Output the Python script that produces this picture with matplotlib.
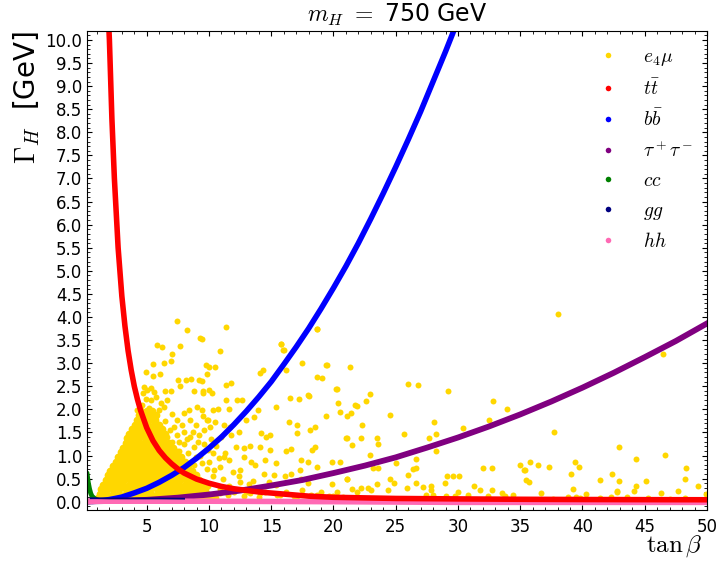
import matplotlib
matplotlib.use('Agg')
import matplotlib.pyplot as plt
from matplotlib.lines import Line2D
from matplotlib.ticker import MultipleLocator

plt.rcParams['mathtext.fontset'] = 'cm'

# ---- widths of the channels vs tan(beta) ----
tt_x = [1.9, 2.0, 2.2, 2.4, 2.7, 3.0, 3.25, 3.5, 3.75, 4.0, 4.25, 4.5, 5.0, 5.5, 6.0, 6.5,
        7.0, 7.5, 8.0, 9.0, 10, 11, 12, 14, 16, 18, 20, 25, 30, 35, 40, 45, 50]
tt_y = [10.6, 10.0, 8.3, 7.0, 5.5, 4.45, 3.8, 3.27, 2.85, 2.5, 2.22, 1.98, 1.6, 1.32, 1.11,
        0.95, 0.82, 0.71, 0.62, 0.49, 0.40, 0.33, 0.28, 0.21, 0.165, 0.12, 0.095, 0.07,
        0.06, 0.052, 0.047, 0.044, 0.042]

bb_x = [0.8, 1, 1.5, 2, 2.5, 3, 4, 5, 6, 7, 8, 9, 10, 11, 12, 13, 14, 15, 16, 17, 18, 19,
        20, 21, 22, 23, 24, 25, 26, 27, 28, 29, 30]
bb_y = [0.01, 0.012, 0.026, 0.046, 0.072, 0.10, 0.19, 0.29, 0.42, 0.57, 0.74, 0.94, 1.16,
        1.40, 1.67, 1.96, 2.27, 2.6, 2.97, 3.35, 3.75, 4.18, 4.63, 5.1, 5.6, 6.13, 6.68,
        7.25, 7.84, 8.45, 9.1, 9.75, 10.43]

tau_x = [0.2, 1, 3, 5, 7.5, 10, 12.5, 15, 17.5, 20, 22.5, 25, 27.5, 30, 32.5, 35, 37.5,
         40, 42.5, 45, 47.5, 50]
tau_y = [0.0, 0.01, 0.02, 0.04, 0.087, 0.155, 0.24, 0.35, 0.47, 0.62, 0.78, 0.96, 1.17,
         1.39, 1.63, 1.89, 2.17, 2.47, 2.79, 3.13, 3.48, 3.86]

cc_x = [0.2, 0.25, 0.3, 0.4, 0.5, 0.6, 0.8, 1.0, 1.2, 1.5]
cc_y = [0.62, 0.52, 0.42, 0.28, 0.18, 0.12, 0.07, 0.04, 0.025, 0.015]

gg_x = [0.5, 1, 2, 4, 6, 8]
gg_y = [0.075, 0.075, 0.07, 0.07, 0.07, 0.065]

hh_x = [0.2, 10, 20, 30, 40, 50]
hh_y = [0.01, 0.01, 0.0, -0.015, -0.015, -0.015]

# ---- e4 mu scan points: dense core (row by row) ----
e4mu_dense_y = [0.08, 0.17, 0.27, 0.37, 0.47, 0.57, 0.67, 0.77, 0.87, 0.97, 1.07, 1.17,
                1.27, 1.37, 1.47, 1.57, 1.67, 1.77, 1.87, 1.97]
e4mu_dense_x = [
    [1.1, 1.6, 2.1, 2.6, 3.1, 3.6, 4.1, 4.6, 5.1, 5.6, 6.1, 6.6, 7.1, 7.6, 8.1, 8.6, 9.1, 9.6, 10.1, 10.5],
    [1.25, 1.75, 2.3, 2.8, 3.3, 3.85, 4.35, 4.85, 5.35, 5.9, 6.4, 6.9, 7.4, 7.9, 8.4, 8.9, 9.4, 9.85],
    [1.3, 1.8, 2.3, 2.8, 3.3, 3.8, 4.3, 4.8, 5.3, 5.8, 6.3, 6.8, 7.3, 7.8, 8.3, 8.8, 9.3, 9.7],
    [1.5, 2.05, 2.55, 3.05, 3.55, 4.05, 4.55, 5.05, 5.55, 6.05, 6.55, 7.05, 7.55, 8.05, 8.55, 9.05, 9.5],
    [1.7, 2.2, 2.7, 3.2, 3.7, 4.2, 4.7, 5.2, 5.7, 6.2, 6.7, 7.2, 7.7, 8.2, 8.7, 9.2],
    [1.9, 2.45, 2.95, 3.45, 3.95, 4.45, 4.95, 5.45, 5.95, 6.45, 6.95, 7.45, 7.95, 8.45, 8.95],
    [2.05, 2.55, 3.05, 3.55, 4.05, 4.55, 5.05, 5.55, 6.05, 6.55, 7.05, 7.55, 8.05, 8.6],
    [2.3, 2.8, 3.3, 3.8, 4.3, 4.8, 5.3, 5.8, 6.3, 6.8, 7.3, 7.8, 8.35],
    [2.5, 3.0, 3.5, 4.0, 4.5, 5.0, 5.5, 6.0, 6.5, 7.0, 7.5, 8.05],
    [2.7, 3.2, 3.7, 4.2, 4.7, 5.2, 5.7, 6.2, 6.7, 7.2, 7.75],
    [2.9, 3.45, 3.95, 4.45, 4.95, 5.45, 5.95, 6.45, 6.95, 7.45],
    [3.1, 3.6, 4.1, 4.6, 5.1, 5.6, 6.1, 6.6, 7.1],
    [3.3, 3.8, 4.3, 4.8, 5.3, 5.8, 6.3, 6.8],
    [3.4, 3.9, 4.4, 4.9, 5.4, 5.9, 6.4],
    [3.55, 4.05, 4.55, 5.05, 5.55, 6.05, 6.45],
    [3.8, 4.3, 4.8, 5.3, 5.8, 6.25],
    [4.05, 4.55, 5.05, 5.55, 6.0],
    [4.2, 4.7, 5.2, 5.7],
    [4.35, 4.85, 5.35, 5.75],
    [4.5, 5.0, 5.45],
]

# ---- e4 mu scan points: scattered ones ----
e4mu_sparse = [
    (7.41, 3.91), (8.21, 3.71), (9.28, 3.55), (5.81, 3.39), (6.2, 3.36), (7.68, 3.37),
    (7.06, 3.19), (5.51, 2.99), (6.39, 3.01), (6.93, 3.05), (4.9, 2.81), (5.51, 2.72),
    (6.07, 2.77), (7.54, 2.63), (8.13, 2.64), (8.59, 2.65), (9.2, 2.63), (10.0, 2.92),
    (4.79, 2.49), (5.05, 2.42), (5.32, 2.47), (4.73, 2.36), (5.59, 2.38), (4.92, 2.23),
    (5.32, 2.2), (5.72, 2.26), (6.12, 2.13), (6.39, 2.05), (4.65, 2.09), (4.25, 1.98),
    (5.19, 2.02), (5.99, 1.98), (6.66, 2.2), (6.5, 2.4), (6.95, 2.4), (8.8, 2.4),
    (9.5, 2.4), (7.7, 2.5), (10.0, 2.42), (10.3, 1.98), (9.07, 2.05), (9.47, 1.98),
    (8.0, 1.91), (8.4, 1.98), (8.5, 1.77), (8.94, 1.66), (9.9, 1.77), (10.1, 1.62),
    (7.46, 1.77), (7.2, 1.62), (8.0, 1.51), (8.5, 1.41), (9.2, 1.44), (6.66, 1.41),
    (7.06, 1.3), (7.6, 1.3), (8.0, 1.26), (8.8, 1.19), (9.6, 1.26), (9.9, 1.12),
    (10.3, 1.05), (8.3, 1.05), (8.96, 0.97), (9.4, 0.83), (7.73, 0.9), (7.2, 0.76),
    (10.0, 0.87), (6.5, 1.75), (6.9, 1.55), (7.4, 1.45), (7.0, 1.9), (7.8, 1.65),
    (8.2, 1.35), (8.7, 1.5), (9.1, 1.3), (9.6, 1.55), (10.2, 1.35), (10.6, 1.2),
    (11.0, 1.4), (11.3, 1.05), (10.8, 0.95), (9.8, 0.7), (10.3, 0.55), (9.9, 0.35),
    (11.1, 0.5), (11.6, 0.35), (12.0, 0.25), (12.4, 0.55), (13.0, 0.25), (13.5, 0.45),
    (13.9, 0.3), (14.5, 0.22), (11.5, 0.15), (12.8, 0.12), (10.9, 0.28), (8.8, 0.8),
    (9.3, 1.0), (7.6, 1.1), (6.3, 1.4), (5.9, 1.6), (11.37, 3.78), (9.42, 3.53),
    (10.89, 3.26), (18.66, 3.74), (15.79, 3.41), (15.98, 3.28), (9.77, 2.95), (10.49, 2.92),
    (9.42, 2.62), (9.82, 2.76), (14.1, 2.79), (14.37, 2.86), (16.2, 2.85), (19.4, 2.96),
    (18.66, 2.7), (19.1, 2.68), (11.37, 2.52), (11.78, 2.57), (9.55, 2.36), (10.22, 2.36),
    (16.5, 2.24), (18.06, 2.29), (20.2, 2.44), (12.23, 2.2), (12.68, 2.2), (11.37, 2.2),
    (10.76, 2.0), (11.64, 2.0), (13.9, 1.98), (15.4, 2.04), (20.4, 2.13), (9.5, 1.85),
    (19.4, 1.85), (20.5, 1.95), (21.1, 1.85), (10.5, 1.73), (9.8, 1.77), (11.2, 1.66),
    (11.7, 1.62), (13.0, 1.77), (13.6, 1.84), (16.4, 1.73), (17.1, 1.66), (18.5, 1.62),
    (18.1, 1.55), (12.4, 1.51), (11.8, 1.44), (14.2, 1.48), (14.6, 1.41), (14.9, 1.44),
    (17.1, 1.49), (21.0, 1.38), (12.2, 1.19), (12.8, 1.17), (13.3, 1.2), (14.1, 1.19),
    (14.9, 1.12), (16.2, 1.1), (16.6, 1.14), (18.5, 1.18), (18.3, 1.12), (17.4, 0.9),
    (17.99, 0.87), (11.2, 0.97), (11.6, 0.9), (12.8, 0.97), (13.4, 0.87), (13.7, 0.79),
    (14.5, 0.9), (15.4, 0.83), (10.9, 0.76), (10.4, 0.69), (11.9, 0.65), (12.5, 0.69),
    (14.4, 0.61), (15.2, 0.58), (16.1, 0.55), (16.6, 0.61), (17.3, 0.69), (18.7, 0.76),
    (19.9, 0.87), (20.5, 0.87), (12.5, 0.43), (13.2, 0.39), (14.8, 0.43), (15.4, 0.36),
    (17.4, 0.5), (17.99, 0.41), (19.9, 0.39), (21.1, 0.5), (10.1, 0.15), (10.9, 0.18),
    (12.0, 0.2), (13.0, 0.2), (14.1, 0.18), (15.7, 0.15), (17.1, 0.12), (18.7, 0.15),
    (20.0, 0.13), (15.5, 0.15), (16.2, 0.22), (16.8, 0.12), (17.5, 0.25), (18.2, 0.15),
    (19.0, 0.22), (19.6, 0.12), (20.3, 0.2), (20.8, 0.1), (14.0, 0.1), (13.3, 0.18),
    (15.8, 3.42), (16.0, 3.29), (17.5, 3.0), (18.7, 3.75), (19.5, 2.96), (17.99, 2.3),
    (17.2, 2.23), (21.3, 2.92), (21.7, 2.09), (20.3, 2.45),
    (26.0, 2.54), (26.8, 2.52), (29.2, 2.39), (22.9, 2.33), (22.6, 2.18), (21.9, 2.07),
    (21.4, 1.93), (32.8, 2.18), (33.9, 2.0), (24.5, 1.87), (28.1, 1.72), (32.5, 1.77),
    (30.4, 1.59), (22.3, 1.66), (25.7, 1.47), (28.2, 1.47), (21.1, 1.37), (22.2, 1.37),
    (23.5, 1.37), (21.5, 1.22), (23.6, 1.25), (27.7, 1.37), (28.2, 1.1), (22.9, 1.01),
    (26.6, 0.92), (25.0, 0.83), (23.2, 0.72), (23.6, 0.72), (26.4, 0.7), (26.6, 0.74),
    (26.0, 0.58), (21.1, 0.5), (24.5, 0.49), (24.9, 0.41), (29.1, 0.56), (29.6, 0.56),
    (30.1, 0.56), (32.0, 0.74), (32.7, 0.74), (35.0, 0.8), (35.4, 0.68), (23.5, 0.38),
    (22.8, 0.3), (22.2, 0.3), (23.0, 0.25), (21.5, 0.27), (21.9, 0.22), (24.4, 0.25),
    (25.9, 0.3), (26.6, 0.4), (27.2, 0.32), (27.8, 0.34), (27.8, 0.25), (28.97, 0.4),
    (30.0, 0.22), (31.3, 0.33), (31.8, 0.25), (32.7, 0.25), (33.5, 0.18), (27.4, 0.15),
    (28.0, 0.15), (29.0, 0.13), (29.8, 0.13), (30.8, 0.15), (32.4, 0.12), (33.8, 0.13),
    (34.4, 0.15), (38.0, 4.06), (46.5, 3.19), (37.7, 1.51), (42.9, 1.18), (46.6, 1.01),
    (44.3, 0.92), (35.8, 0.87), (36.4, 0.79), (37.3, 0.75), (39.4, 0.87), (39.7, 0.75),
    (35.3, 0.69), (39.1, 0.6), (42.4, 0.61), (48.3, 0.72), (48.2, 0.5), (35.5, 0.47),
    (35.7, 0.42), (41.4, 0.47), (42.9, 0.44), (45.1, 0.44), (49.3, 0.34), (39.2, 0.27),
    (36.7, 0.18), (40.3, 0.16), (42.8, 0.2), (42.8, 0.24), (44.3, 0.34), (44.1, 0.24),
    (46.3, 0.18), (47.7, 0.23), (49.9, 0.17), (39.5, 0.1), (39.8, 0.08), (41.4, 0.08),
    (42.3, 0.1), (43.6, 0.1), (45.3, 0.07), (47.0, 0.06), (48.2, 0.07), (38.8, 0.1),
    (37.6, 0.05),
]

labels = [r'$e_4\mu$', r'$t\bar{t}$', r'$b\bar{b}$', r'$\tau^+\tau^-$', r'$cc$', r'$gg$', r'$hh$']
colors = ['#FFD700', 'red', 'blue', 'purple', 'green', 'navy', 'hotpink']

fig = plt.figure(figsize=(7.16, 5.69), dpi=100)
ax = fig.add_axes([0.1215, 0.1037, 0.8659, 0.8423])

# yellow scan points (core drawn a bit fatter so it reads as solid)
dense_x = [x for row in e4mu_dense_x for x in row]
dense_y = [y for row, y in zip(e4mu_dense_x, e4mu_dense_y) for _ in row]
ax.plot(dense_x, dense_y, 'o', color=colors[0], ms=5.6, mew=0)
ax.plot([p[0] for p in e4mu_sparse], [p[1] for p in e4mu_sparse], 'o',
        color=colors[0], ms=4.3, mew=0)

# channel curves; hh sits over the small ones, tt over everything
ax.plot(bb_x, bb_y, '-', color=colors[2], lw=4)
ax.plot(tau_x, tau_y, '-', color=colors[3], lw=4.2)
ax.plot(cc_x, cc_y, '-', color=colors[4], lw=3.5, solid_capstyle='round')
ax.plot(hh_x, hh_y, '-', color=colors[6], lw=4)
ax.plot(gg_x, gg_y, '-', color=colors[5], lw=1.3)
ax.plot(tt_x, tt_y, '-', color=colors[1], lw=4)

ax.set_xlim(0.2, 50)
ax.set_ylim(-0.18, 10.2)
ax.xaxis.set_major_locator(MultipleLocator(5))
ax.xaxis.set_minor_locator(MultipleLocator(1))
ax.yaxis.set_major_locator(MultipleLocator(0.5))
ax.yaxis.set_minor_locator(MultipleLocator(0.1))
ax.tick_params(which='both', direction='in', top=True, right=True, labelsize=12)
ax.tick_params(which='major', length=3.5)
ax.tick_params(which='minor', length=2)
ax.tick_params(axis='x', pad=6)

ax.set_title(r'$m_H\ =$ 750 GeV', fontsize=17, pad=6)
ax.set_ylabel(r'$\Gamma_H$  [GeV]', fontsize=20, loc='top', labelpad=2)
ax.set_xlabel(r'$\tan\beta$', fontsize=18, loc='right')
ax.xaxis.set_label_coords(0.9935, -0.048)

handles = [Line2D([], [], ls='none', marker='o', ms=4, mew=0, color=c) for c in colors]
ax.legend(handles, labels, loc='upper left', bbox_to_anchor=(0.796, 1.002), frameon=False,
          fontsize=14, handlelength=1, handletextpad=1.3, labelspacing=0.53, borderpad=0.4)

fig.savefig('out.png', dpi=100)
